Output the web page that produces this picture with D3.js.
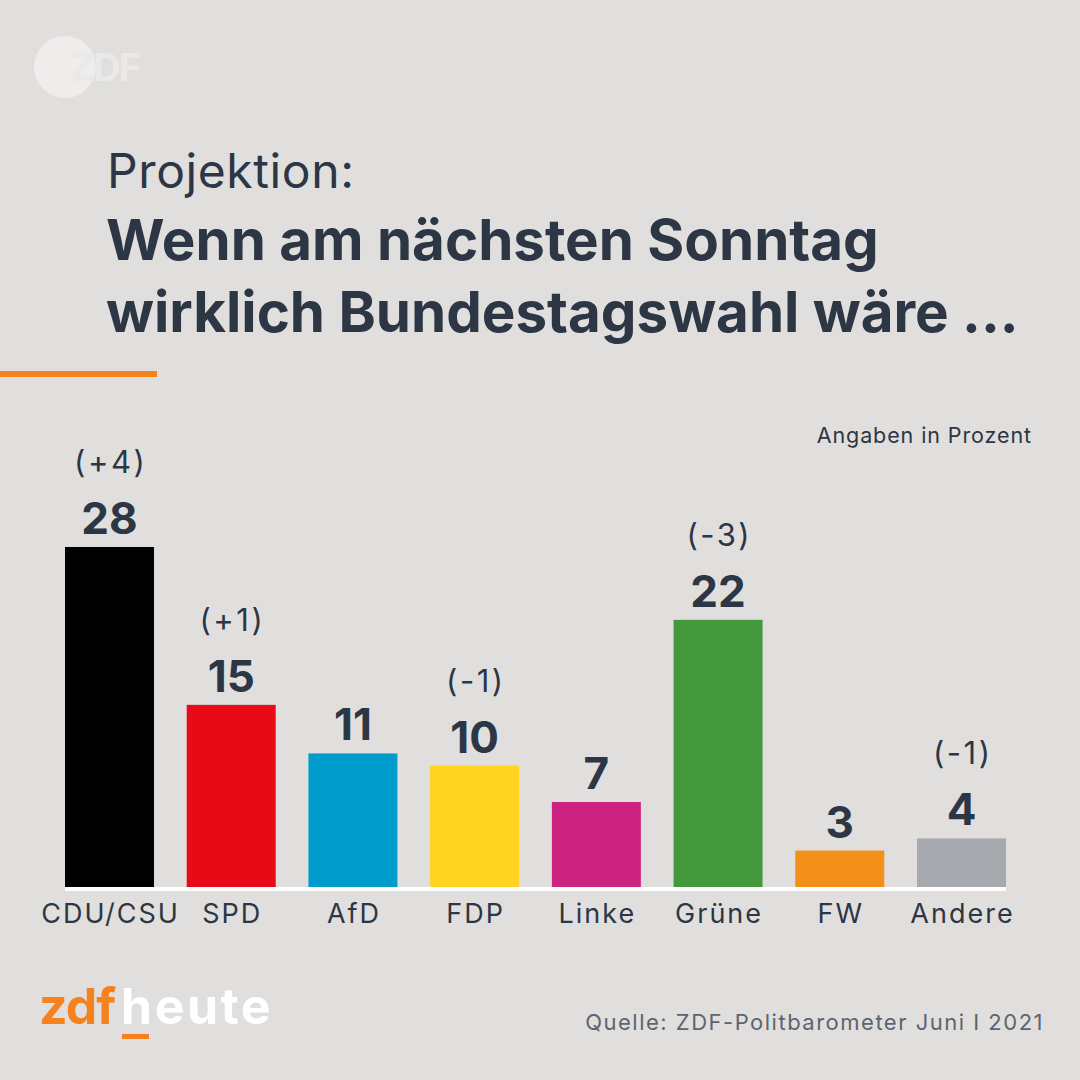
<!DOCTYPE html>
<html>
<head>
<meta charset="utf-8">
<script src="https://cdn.jsdelivr.net/npm/d3@7"></script>
<style>
  html, body { margin: 0; padding: 0; background: #e1dfdd; }
  svg { display: block; }
  text { font-family: Inter, "Noto Sans", sans-serif; }
</style>
</head>
<body>
<svg id="chart" width="1080" height="1080"></svg>
<script>
const categories = ["CDU/CSU", "SPD", "AfD", "FDP", "Linke", "Grüne", "FW", "Andere"];
const values = [28, 15, 11, 10, 7, 22, 3, 4];
const changes = ["(+4)", "(+1)", "", "(-1)", "", "(-3)", "", "(-1)"];
const colors = ["#000000", "#e80a16", "#009ccc", "#ffd31f", "#cc2381", "#43993c", "#f39019", "#a6a9ae"];

const svg = d3.select("#chart");
const W = 1080, H = 1080;
const textColor = "#2c3645";

svg.append("rect").attr("width", W).attr("height", H).attr("fill", "#e1dfdd");

// ZDF logo (faint)
const logo = svg.append("g");
logo.append("circle").attr("cx", 65).attr("cy", 67).attr("r", 31).attr("fill", "#eeedec");
logo.append("text").attr("x", 70).attr("y", 81).attr("font-size", 38).attr("font-weight", 700)
  .attr("fill", "#eae9e8").attr("letter-spacing", -2).text("ZDF");

// Titles
svg.append("text").attr("x", 107).attr("y", 188).attr("font-size", 48).attr("fill", textColor)
  .attr("letter-spacing", 0.6).text("Projektion:");
svg.append("text").attr("x", 106).attr("y", 260).attr("font-size", 56.5).attr("font-weight", 700)
  .attr("fill", textColor).text("Wenn am nächsten Sonntag");
svg.append("text").attr("x", 106).attr("y", 332).attr("font-size", 56.5).attr("font-weight", 700)
  .attr("fill", textColor).text("wirklich Bundestagswahl wäre ...");

svg.append("rect").attr("x", 0).attr("y", 371).attr("width", 157).attr("height", 6).attr("fill", "#f5821f");

svg.append("text").attr("x", 1032).attr("y", 443).attr("text-anchor", "end").attr("font-size", 21.5)
  .attr("letter-spacing", 0.9).attr("fill", textColor).text("Angaben in Prozent");

// Scales
const x = d3.scaleBand().domain(categories).range([65, 1006]).paddingInner(0.269).paddingOuter(0);
const baseline = 887;
const y = d3.scaleLinear().domain([0, 28]).range([baseline, 547]);

const g = svg.append("g");
g.selectAll("rect.bar").data(categories).join("rect")
  .attr("class", "bar")
  .attr("x", d => x(d))
  .attr("width", x.bandwidth())
  .attr("y", (d, i) => y(values[i]))
  .attr("height", (d, i) => baseline - y(values[i]))
  .attr("fill", (d, i) => colors[i]);

// baseline
svg.append("rect").attr("x", 65).attr("y", baseline).attr("width", 941).attr("height", 4).attr("fill", "#ffffff");

// value labels
g.selectAll("text.val").data(categories).join("text")
  .attr("class", "val")
  .attr("x", d => x(d) + x.bandwidth() / 2)
  .attr("y", (d, i) => y(values[i]) - 13)
  .attr("text-anchor", "middle")
  .attr("font-size", 44).attr("font-weight", 700).attr("fill", textColor)
  .text((d, i) => values[i]);

g.selectAll("text.chg").data(categories).join("text")
  .attr("class", "chg")
  .attr("x", d => x(d) + x.bandwidth() / 2 + 1.2)
  .attr("y", (d, i) => y(values[i]) - 74)
  .attr("text-anchor", "middle")
  .attr("font-size", 31).attr("letter-spacing", 2.5).attr("fill", textColor)
  .text((d, i) => changes[i]);

// category axis
const axis = d3.axisBottom(x).tickSize(0).tickPadding(0);
const ax = svg.append("g").attr("transform", `translate(1, 923)`).call(axis);
ax.select(".domain").remove();
ax.selectAll("text").attr("font-size", 27).attr("letter-spacing", 2).attr("fill", textColor).attr("dy", 0)
  .attr("font-family", "Inter, 'Noto Sans', sans-serif");

// zdfheute logo
svg.append("text").attr("x", 39).attr("y", 1024).attr("font-size", 50).attr("font-weight", 700)
  .attr("fill", "#f5821f").attr("letter-spacing", -1).text("zdf");
svg.append("text").attr("x", 121).attr("y", 1024).attr("font-size", 50).attr("font-weight", 700)
  .attr("fill", "#ffffff").attr("letter-spacing", 2.5).text("heute");
svg.append("rect").attr("x", 122).attr("y", 1034).attr("width", 27).attr("height", 5).attr("fill", "#f5821f");

svg.append("text").attr("x", 1044).attr("y", 1030).attr("text-anchor", "end").attr("font-size", 22)
  .attr("letter-spacing", 1.5).attr("fill", "#5d6470").text("Quelle: ZDF-Politbarometer Juni I 2021");
</script>
</body>
</html>
